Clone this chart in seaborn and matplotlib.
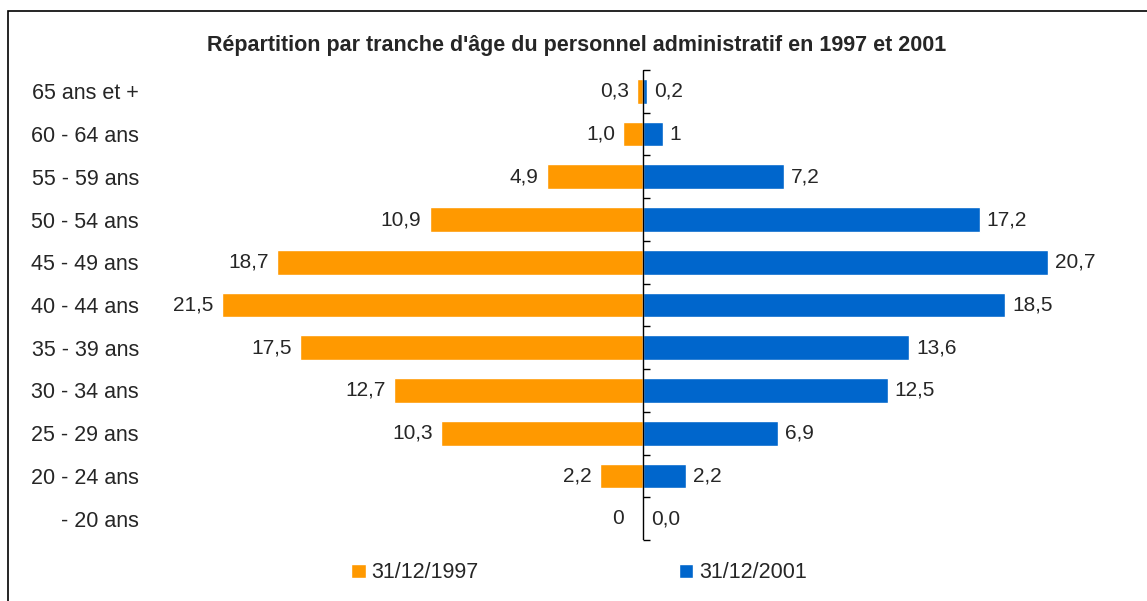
import numpy as np
import matplotlib
matplotlib.use("Agg")
import matplotlib.pyplot as plt
from matplotlib.patches import Rectangle, Patch
import seaborn as sns

# age groups from top to bottom
ages = ["65 ans et +", "60 - 64 ans", "55 - 59 ans", "50 - 54 ans", "45 - 49 ans",
        "40 - 44 ans", "35 - 39 ans", "30 - 34 ans", "25 - 29 ans", "20 - 24 ans",
        "- 20 ans"]
vals_1997 = [0.3, 1.0, 4.9, 10.9, 18.7, 21.5, 17.5, 12.7, 10.3, 2.2, 0.0]
vals_2001 = [0.2, 1.0, 7.2, 17.2, 20.7, 18.5, 13.6, 12.5, 6.9, 2.2, 0.04]
labels_1997 = ["0,3", "1,0", "4,9", "10,9", "18,7", "21,5", "17,5", "12,7", "10,3", "2,2", "0"]
labels_2001 = ["0,2", "1", "7,2", "17,2", "20,7", "18,5", "13,6", "12,5", "6,9", "2,2", "0,0"]

orange = "#FF9900"
blue = "#0066CC"

sns.set_style("white")
plt.rcParams["font.family"] = ["Liberation Sans", "DejaVu Sans"]

fig = plt.figure(figsize=(11.47, 6.01), dpi=100)
ax = fig.add_axes([0.1338, 0.1015, 0.8535, 0.782])

sns.barplot(x=-np.array(vals_1997), y=ages, color=orange, saturation=1,
            width=0.58, orient="h", ax=ax)
sns.barplot(x=np.array(vals_2001), y=ages, color=blue, saturation=1,
            width=0.58, orient="h", ax=ax)

left_txt = ax.bar_label(ax.containers[0], labels=labels_1997, padding=6, fontsize=15)
ax.bar_label(ax.containers[1], labels=labels_2001, padding=5, fontsize=15)
# zero-width bars get their label on the right side: push the orange ones left
for t, v in zip(left_txt, vals_1997):
    if v == 0:
        t.set_ha("right")
        t.xyann = (-14, 0)

ax.set_xlim(-25, 25)
ax.set_ylim(len(ages) - 0.5, -0.5)
ax.set_xticks([])
ax.set_xlabel("")
ax.set_ylabel("")
for s in ax.spines.values():
    s.set_visible(False)
ax.tick_params(axis="y", length=0, pad=10.5, labelsize=15.5)
for t in ax.get_yticklabels():
    t.set_y(t.get_position()[1])

# central axis with ticks between categories
ax.axvline(0, color="black", linewidth=1, zorder=5)
sec = ax.secondary_yaxis(0.5)
sec.set_yticks(np.arange(-0.5, len(ages), 1.0))
sec.set_yticklabels([])
sec.tick_params(direction="out", length=5, width=1, color="black")
for s in sec.spines.values():
    s.set_visible(False)

fig.text(577 / 1147, 1 - 45 / 601,
         "Répartition par tranche d'âge du personnel administratif en 1997 et 2001",
         ha="center", va="center", fontsize=15.5, fontweight="bold")

handles = [Patch(facecolor=orange, label="31/12/1997"),
           Patch(facecolor=blue, label="31/12/2001")]
fig.legend(handles=handles, loc="center", bbox_to_anchor=(579 / 1147, 1 - 573 / 601),
           ncol=2, frameon=False, fontsize=15.5, handlelength=0.68, handleheight=0.68,
           handletextpad=0.25, columnspacing=9.3)

fig.add_artist(Rectangle((8 / 1147, -0.1), 1.2, 0.1 + (601 - 11) / 601,
                         transform=fig.transFigure, fill=False,
                         edgecolor="black", linewidth=1.2))

fig.savefig("out.png", dpi=100)
